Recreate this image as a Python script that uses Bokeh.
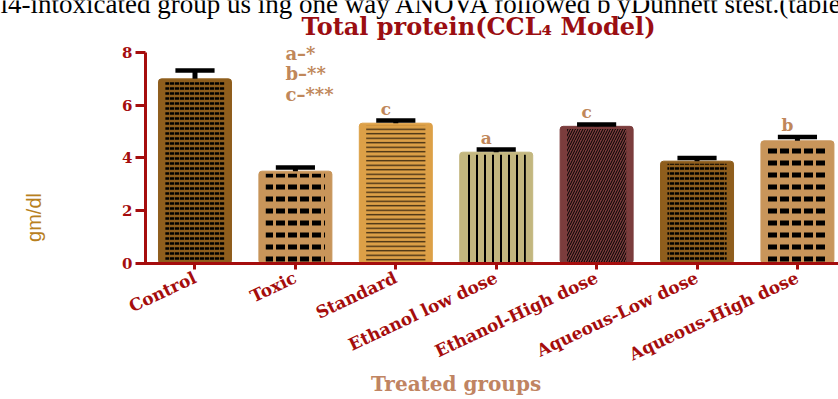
import numpy as np
from bokeh.plotting import figure
from bokeh.models import FixedTicker, Label, Range1d, ColumnDataSource
from bokeh.core.properties import value
from bokeh.embed import file_html
from bokeh.resources import INLINE

# ---- data ----
groups = ["Control", "Toxic", "Standard", "Ethanol low dose",
          "Ethanol-High dose", "Aqueous-Low dose", "Aqueous-High dose"]
means = [7.0, 3.5, 5.32, 4.22, 5.2, 3.88, 4.65]
sems = [0.32, 0.14, 0.1, 0.1, 0.07, 0.12, 0.15]
sig_letters = ["", "", "c", "a", "c", "", "b"]
sig_legend = ["a\u2013*", "b\u2013**", "c\u2013***"]
y_ticks = [0, 2, 4, 6, 8]
title_text = "Total protein(CCL\u2084 Model)"
top_text = "l4-intoxicated group us ing one way ANOVA followed b yDunnett  stest.(table"
x_label = "Treated groups"
y_label = "gm/dl"

# ---- styles ----
bar_colors = ["#8F5E1D", "#C8955A", "#DDA047", "#C3B77F", "#7B3D3D", "#8F5E1D", "#C8955A"]
hatches = ["horizontal_dash", "horizontal_dash", "horizontal_line", "vertical_line",
           "right_diagonal_line", "horizontal_dash", "horizontal_dash"]
hatch_scales = [5, 12, 4.5, 8, 5, 5, 12]
hatch_weights = [2.5, 5, 1.3, 2, 1, 2.5, 5]
hatch_colors = ["black", "black", "#3A2810", "black", "black", "black", "black"]

DARK_RED = "#A50D0D"
TAN = "#C0875A"
SERIF_B = "DejaVu Serif"

x = np.arange(len(groups))
m = np.array(means)
e = np.array(sems)

src = ColumnDataSource(dict(
    x=x, top=m, inner_top=m - 0.1, color=bar_colors, hatch=hatches,
    hscale=hatch_scales, hweight=hatch_weights, hcolor=hatch_colors,
    up=m + e, cap_l=x - 0.195, cap_r=x + 0.195, letters=sig_letters,
))

# frame spans the whole canvas; axes are pinned with fixed_location
X0, X1 = -1.937, 6.409
Y0, Y1 = -5.156, 9.971
AX_X = -0.493
p = figure(width=838, height=399, output_backend="svg", toolbar_location=None,
           x_range=Range1d(X0, X1), y_range=Range1d(Y0, Y1),
           min_border_left=0, min_border_right=0, min_border_top=0,
           min_border_bottom=0, title=None)
p.outline_line_color = None
p.grid.visible = False
p.background_fill_color = "white"
p.border_fill_color = "white"

p.vbar(x="x", top="top", bottom=0, width=0.727, source=src,
       fill_color="color", line_color="color", border_radius=3)
p.vbar(x="x", top="inner_top", bottom=0, width=0.59, source=src,
       fill_alpha=0, line_alpha=0, hatch_pattern="hatch", hatch_scale="hscale",
       hatch_weight="hweight", hatch_color="hcolor")

p.segment(x0="x", y0="top", x1="x", y1="up", source=src, line_color="black", line_width=5)
p.segment(x0="cap_l", y0="up", x1="cap_r", y1="up", source=src, line_color="black", line_width=4.5)

p.text(x="x", y="up", text="letters", source=src, x_offset=-10, y_offset=-12,
       text_align="center", text_baseline="alphabetic",
       text_font=value(SERIF_B), text_font_style="bold", text_font_size="17px",
       text_color=TAN)

# axes
for ax in (p.xaxis[0], p.yaxis[0]):
    ax.axis_line_color = DARK_RED
    ax.axis_line_width = 3
    ax.major_tick_line_color = DARK_RED
    ax.major_tick_line_width = 3
    ax.major_tick_in = 0
    ax.minor_tick_out = 0
    ax.minor_tick_in = 0
    ax.major_label_text_color = DARK_RED
    ax.major_label_text_font = SERIF_B
    ax.major_label_text_font_style = "bold"

p.yaxis.fixed_location = AX_X
p.yaxis.bounds = (0, 8)
p.yaxis.ticker = FixedTicker(ticks=y_ticks)
p.yaxis.major_tick_out = 10
p.yaxis.major_label_text_font_size = "15px"
p.yaxis.major_label_standoff = 3

p.xaxis.fixed_location = 0
p.xaxis.bounds = (AX_X - 0.03, X1)
p.xaxis.ticker = FixedTicker(ticks=list(x))
p.xaxis.major_label_overrides = {int(i): g for i, g in zip(x, groups)}
p.xaxis.major_tick_out = 6
p.xaxis.major_label_orientation = 0.44
p.xaxis.major_label_text_font_size = "17px"
p.xaxis.major_label_standoff = 7

# texts
p.add_layout(Label(x=X0, y=9.85, text=top_text, text_font="Liberation Serif",
                   text_font_size="27px", text_color="black", text_align="left",
                   text_baseline="alphabetic"))
p.add_layout(Label(x=2.824, y=8.97, text=title_text, text_font=SERIF_B,
                   text_font_style="bold", text_font_size="24px", text_color="#9B0E12",
                   text_align="center", text_baseline="alphabetic"))
for i, t in enumerate(sig_legend):
    p.add_layout(Label(x=0.901, y=7.98 - 0.778 * i, text=t, text_font=SERIF_B,
                       text_font_style="bold", text_font_size="18px", text_color=TAN,
                       text_align="left", text_baseline="alphabetic"))
p.add_layout(Label(x=-1.6, y=1.744, text=y_label, angle=np.pi / 2,
                   text_font="Liberation Sans", text_font_size="20px",
                   text_color="#B8801E", text_align="center", text_baseline="middle"))
p.add_layout(Label(x=2.6, y=-4.55, text=x_label, text_font=SERIF_B,
                   text_font_style="bold", text_font_size="20px", text_color="#C08462",
                   text_align="center", text_baseline="alphabetic"))

open("out.html", "w").write(file_html(p, INLINE))
